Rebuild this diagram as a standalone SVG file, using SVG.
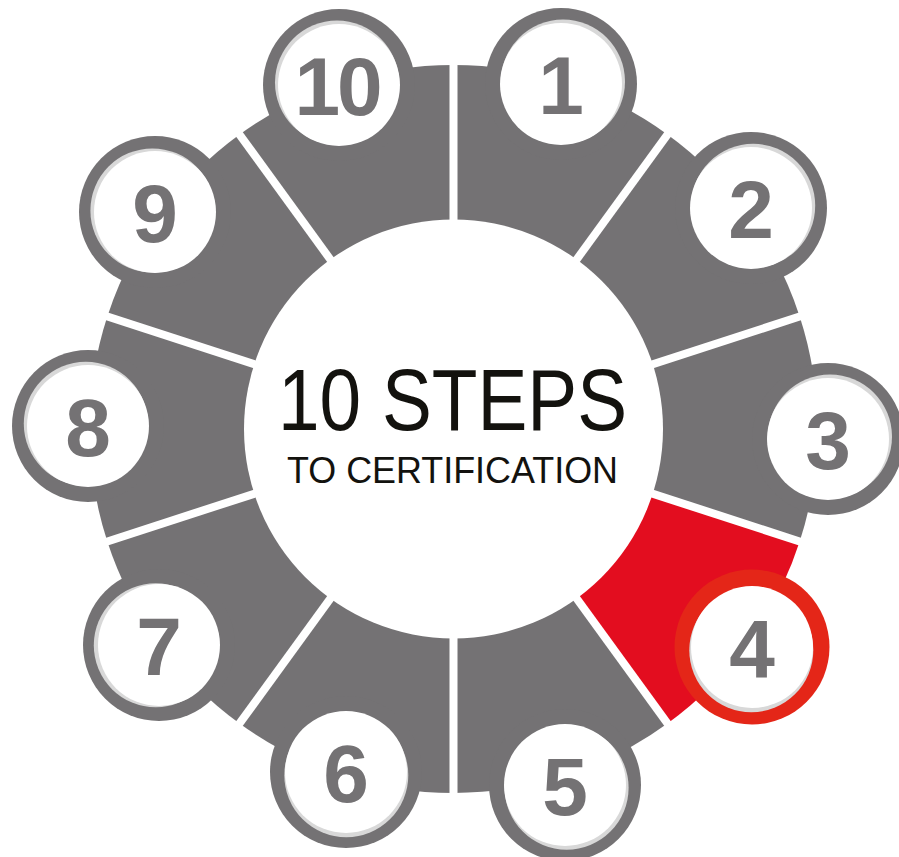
<svg xmlns="http://www.w3.org/2000/svg" width="899" height="857" viewBox="0 0 899 857">
<style>
.seg{fill:#747274}
.seg.active{fill:#e30d1f}
.ring{fill:#747274}
.ring.active{fill:#e42618}
.shadow{fill:#d8d8d8}
.face{fill:#ffffff}
.num{font-family:"Liberation Sans",Arial,sans-serif;font-weight:700;font-size:82px;fill:#747274;text-anchor:middle}
.gap{stroke:#ffffff;stroke-width:8;fill:none}
.title{font-family:"Liberation Sans",Arial,sans-serif;fill:#13120e;text-anchor:middle}
</style>
<rect width="899" height="857" fill="#ffffff"/>
<g id="step-1">
<path class="seg" d="M453.5,429 L453.5,65 A364,364 0 0 1 667.45,134.52 Z"/>
<circle class="ring" cx="561" cy="84" r="76"/>
<circle class="shadow" cx="563" cy="81.5" r="62"/>
<circle class="face" cx="561" cy="84" r="61"/>
<text class="num" x="561" y="114">1</text>
</g>
<g id="step-2">
<path class="seg" d="M453.5,429 L667.45,134.52 A364,364 0 0 1 799.68,316.52 Z"/>
<circle class="ring" cx="751" cy="208" r="76"/>
<circle class="shadow" cx="753.2" cy="205.8" r="62"/>
<circle class="face" cx="751" cy="208" r="61"/>
<text class="num" x="751" y="238">2</text>
</g>
<g id="step-3">
<path class="seg" d="M453.5,429 L799.68,316.52 A364,364 0 0 1 799.68,541.48 Z"/>
<circle class="ring" cx="828" cy="439" r="76"/>
<circle class="shadow" cx="830" cy="436.5" r="62"/>
<circle class="face" cx="828" cy="439" r="61"/>
<text class="num" x="828" y="469">3</text>
</g>
<g id="step-4">
<path class="seg active" d="M453.5,429 L799.68,541.48 A364,364 0 0 1 667.45,723.48 Z"/>
<circle class="ring active" cx="752" cy="647" r="77.5"/>
<circle class="shadow" cx="751.3" cy="650.2" r="62"/>
<circle class="face" cx="752" cy="647" r="61"/>
<text class="num" x="752" y="677">4</text>
</g>
<g id="step-5">
<path class="seg" d="M453.5,429 L667.45,723.48 A364,364 0 0 1 453.5,793 Z"/>
<circle class="ring" cx="565" cy="785" r="76"/>
<circle class="shadow" cx="566.6" cy="787.7" r="62"/>
<circle class="face" cx="565" cy="785" r="61"/>
<text class="num" x="565" y="815">5</text>
</g>
<g id="step-6">
<path class="seg" d="M453.5,429 L453.5,793 A364,364 0 0 1 239.55,723.48 Z"/>
<circle class="ring" cx="346" cy="772" r="76"/>
<circle class="shadow" cx="346.3" cy="775.2" r="62"/>
<circle class="face" cx="346" cy="772" r="61"/>
<text class="num" x="346" y="802">6</text>
</g>
<g id="step-7">
<path class="seg" d="M453.5,429 L239.55,723.48 A364,364 0 0 1 107.32,541.48 Z"/>
<circle class="ring" cx="159" cy="645" r="76"/>
<circle class="shadow" cx="155.8" cy="645.3" r="62"/>
<circle class="face" cx="159" cy="645" r="61"/>
<text class="num" x="159" y="675">7</text>
</g>
<g id="step-8">
<path class="seg" d="M453.5,429 L107.32,541.48 A364,364 0 0 1 107.32,316.52 Z"/>
<circle class="ring" cx="88" cy="426" r="76"/>
<circle class="shadow" cx="85.8" cy="423.8" r="62"/>
<circle class="face" cx="88" cy="426" r="61"/>
<text class="num" x="88" y="456">8</text>
</g>
<g id="step-9">
<path class="seg" d="M453.5,429 L107.32,316.52 A364,364 0 0 1 239.55,134.52 Z"/>
<circle class="ring" cx="155" cy="212" r="76"/>
<circle class="shadow" cx="152.4" cy="210.4" r="62"/>
<circle class="face" cx="155" cy="212" r="61"/>
<text class="num" x="155" y="242">9</text>
</g>
<g id="step-10">
<path class="seg" d="M453.5,429 L239.55,134.52 A364,364 0 0 1 453.5,65 Z"/>
<circle class="ring" cx="339" cy="85" r="76"/>
<circle class="shadow" cx="337" cy="82.5" r="62"/>
<circle class="face" cx="339" cy="85" r="61"/>
<text class="num" x="337" y="115" letter-spacing="-3">10</text>
</g>
<g id="connectors">
<line class="gap" x1="453.5" y1="429" x2="453.5" y2="57"/>
<line class="gap" x1="453.5" y1="429" x2="672.15" y2="128.05"/>
<line class="gap" x1="453.5" y1="429" x2="807.29" y2="314.05"/>
<line class="gap" x1="453.5" y1="429" x2="807.29" y2="543.95"/>
<line class="gap" x1="453.5" y1="429" x2="672.15" y2="729.95"/>
<line class="gap" x1="453.5" y1="429" x2="453.5" y2="801"/>
<line class="gap" x1="453.5" y1="429" x2="234.85" y2="729.95"/>
<line class="gap" x1="453.5" y1="429" x2="99.71" y2="543.95"/>
<line class="gap" x1="453.5" y1="429" x2="99.71" y2="314.05"/>
<line class="gap" x1="453.5" y1="429" x2="234.85" y2="128.05"/>
</g>
<g id="center">
<circle cx="453.5" cy="429" r="209.5" fill="#ffffff"/>
<text class="title" x="452.5" y="430" font-size="88" textLength="349" lengthAdjust="spacingAndGlyphs">10 STEPS</text>
<text class="title" x="452.5" y="483" font-size="36" textLength="331" lengthAdjust="spacingAndGlyphs">TO CERTIFICATION</text>
</g>
</svg>
